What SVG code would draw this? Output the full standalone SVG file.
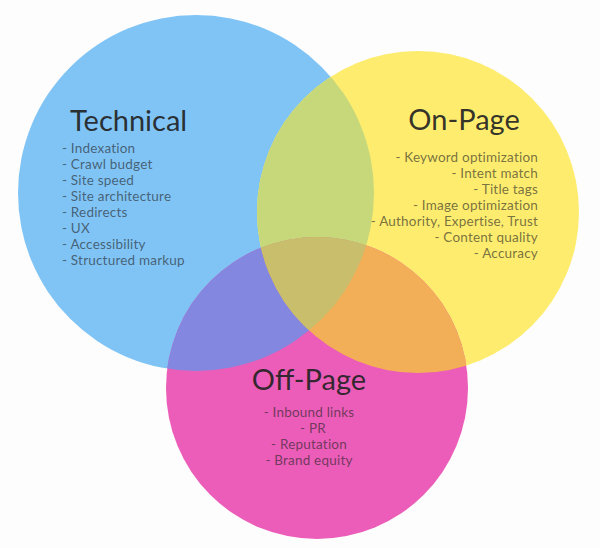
<svg xmlns="http://www.w3.org/2000/svg" width="600" height="548" viewBox="0 0 600 548">
<style>
.title{font-family:Lato,"Open Sans","Liberation Sans",sans-serif;font-size:29px;fill:#222;fill-opacity:0.92}
.item{font-family:Lato,"Open Sans","Liberation Sans",sans-serif;font-size:13.5px;letter-spacing:0.2px;fill:#222;fill-opacity:0.62}
</style>
<defs>
<clipPath id="cBlue"><circle cx="196" cy="193" r="178"/></clipPath>
<clipPath id="cYellow"><circle cx="418" cy="212" r="161"/></clipPath>
<clipPath id="cMagenta"><circle cx="317" cy="388" r="151"/></clipPath>
</defs>
<rect width="600" height="548" fill="#FDFDFD"/>
<g id="circles">
<circle cx="196" cy="193" r="178" fill="#80C4F6"/>
<circle cx="418" cy="212" r="161" fill="#FDEC6E"/>
<circle cx="317" cy="388" r="151" fill="#EB5DB8"/>
<g clip-path="url(#cBlue)"><circle cx="418" cy="212" r="161" fill="#C7D87A"/><circle cx="317" cy="388" r="151" fill="#8387DF"/></g>
<g clip-path="url(#cYellow)"><circle cx="317" cy="388" r="151" fill="#F3AF57"/></g>
<g clip-path="url(#cBlue)"><g clip-path="url(#cYellow)"><circle cx="317" cy="388" r="151" fill="#C9BE6C"/></g></g>
</g>
<g id="technical">
<text class="title" x="70" y="131">Technical</text>
<text class="item" x="62" y="153">- Indexation</text>
<text class="item" x="62" y="169">- Crawl budget</text>
<text class="item" x="62" y="185">- Site speed</text>
<text class="item" x="62" y="201">- Site architecture</text>
<text class="item" x="62" y="217">- Redirects</text>
<text class="item" x="62" y="233">- UX</text>
<text class="item" x="62" y="249">- Accessibility</text>
<text class="item" x="62" y="265">- Structured markup</text>
</g>
<g id="on-page">
<text class="title" x="464" y="130" text-anchor="middle">On-Page</text>
<text class="item" x="538" y="162" text-anchor="end">- Keyword optimization</text>
<text class="item" x="538" y="178" text-anchor="end">- Intent match</text>
<text class="item" x="538" y="194" text-anchor="end">- Title tags</text>
<text class="item" x="538" y="210" text-anchor="end">- Image optimization</text>
<text class="item" x="538" y="226" text-anchor="end">- Authority, Expertise, Trust</text>
<text class="item" x="538" y="242" text-anchor="end">- Content quality</text>
<text class="item" x="538" y="258" text-anchor="end">- Accuracy</text>
</g>
<g id="off-page">
<text class="title" x="309" y="390" text-anchor="middle">Off-Page</text>
<text class="item" x="309" y="417" text-anchor="middle">- Inbound links</text>
<text class="item" x="313" y="433" text-anchor="middle">- PR</text>
<text class="item" x="309" y="449" text-anchor="middle">- Reputation</text>
<text class="item" x="309" y="465" text-anchor="middle">- Brand equity</text>
</g>
</svg>
